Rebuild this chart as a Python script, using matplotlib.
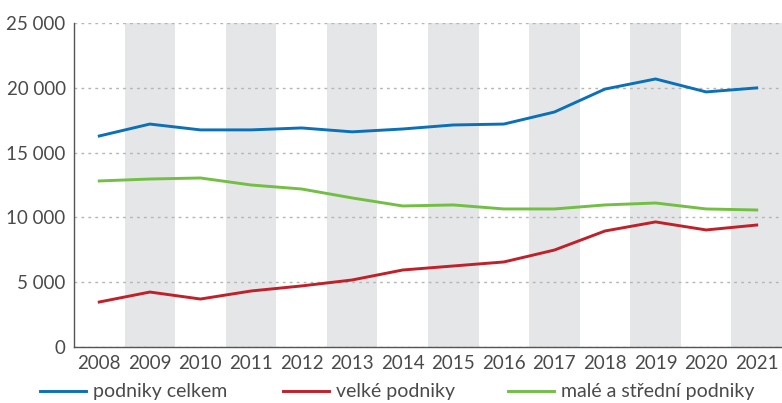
import matplotlib
matplotlib.use('Agg')
import matplotlib.pyplot as plt
from matplotlib.ticker import FuncFormatter

years = list(range(2008, 2022))
celkem = [16280, 17200, 16750, 16750, 16900, 16600, 16820, 17130, 17200, 18130, 19900, 20680, 19680, 19990]
velke = [3470, 4240, 3700, 4320, 4710, 5170, 5940, 6250, 6560, 7480, 8950, 9650, 9030, 9410]
male_stredni = [12810, 12960, 13040, 12500, 12190, 11500, 10880, 10960, 10650, 10650, 10960, 11110, 10650, 10570]
labels = ['podniky celkem', 'velké podniky', 'malé a střední podniky']
colors = ['#0a70b8', '#c0202a', '#72bf44']

plt.rcParams['font.family'] = ['Lato', 'DejaVu Sans']
txt = '#4a4a4a'

W, H = 782, 403
fig = plt.figure(figsize=(W / 100, H / 100), dpi=100)
ax = fig.add_axes([0.0946, 0.139, 0.9054, 0.804])

# alternating bands
for y in years[1::2]:
    ax.axvspan(y - 0.5, y + 0.5, color='#e5e6e8', lw=0, zorder=0)

lines = []
for vals, lab, c in zip([celkem, velke, male_stredni], labels, colors):
    l, = ax.plot(years, vals, color=c, lw=2.1, label=lab, zorder=3)
    lines.append(l)

ax.set_xlim(2007.5, 2021.5)
ax.set_ylim(0, 25000)
ax.set_xticks(years)
ax.set_yticks(range(0, 25001, 5000))
ax.yaxis.set_major_formatter(FuncFormatter(lambda v, p: f'{int(v):,}'.replace(',', ' ')))
ax.grid(axis='y', color='#b5b5b5', linestyle=(0, (2, 3)), lw=1, zorder=1)
ax.set_axisbelow(True)
for s in ['top', 'right']:
    ax.spines[s].set_visible(False)
for s in ['left', 'bottom']:
    ax.spines[s].set_color('#555555')
    ax.spines[s].set_linewidth(1)
ax.tick_params(length=0, labelsize=13.5, colors=txt, pad=6)

# legend entries placed one by one
for l, xpx in zip(lines, [40, 283, 508]):
    leg = fig.legend(handles=[l], loc='center left', bbox_to_anchor=(xpx / W, 1 - 392 / H),
                     frameon=False, fontsize=14, handlelength=2.35, handletextpad=0.4,
                     borderpad=0, borderaxespad=0)
    for t in leg.get_texts():
        t.set_color(txt)

fig.savefig('out.png', dpi=100)
